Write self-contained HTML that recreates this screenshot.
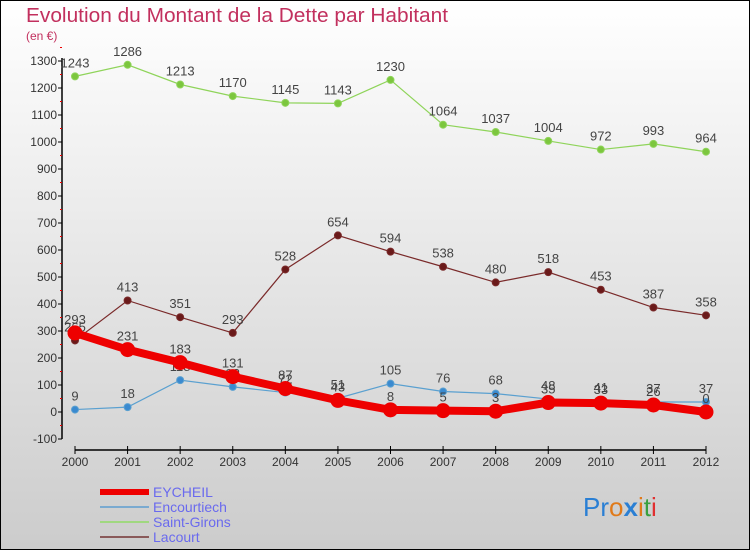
<!DOCTYPE html>
<html><head><meta charset="utf-8">
<style>
html,body{margin:0;padding:0;}
body{width:750px;height:550px;overflow:hidden;font-family:"Liberation Sans",sans-serif;}
svg text{font-family:"Liberation Sans",sans-serif;}
</style></head>
<body>
<svg id="chart" width="750" height="550" viewBox="0 0 750 550" xmlns="http://www.w3.org/2000/svg">
<defs>
<linearGradient id="bg" x1="0" y1="0" x2="0" y2="1">
<stop offset="0" stop-color="#ffffff"/><stop offset="1" stop-color="#cccccc"/>
</linearGradient>
</defs>
<rect x="0.5" y="0.5" width="749" height="549" fill="url(#bg)" stroke="#000"/>
<text x="26" y="22" font-size="20" fill="#c2305e" textLength="422" lengthAdjust="spacingAndGlyphs">Evolution du Montant de la Dette par Habitant</text>
<text x="26" y="40" font-size="12" fill="#c2305e">(en €)</text>
<g id="axes"></g>
<g id="series"></g>
<g id="legend"></g>
<text x="583" y="516" font-size="26"><tspan fill="#2a7fd4">Pr</tspan><tspan fill="#e07a1a">o</tspan><tspan fill="#2a7fd4" font-weight="bold">x</tspan><tspan fill="#e07a1a">i</tspan><tspan fill="#3aa040">t</tspan><tspan fill="#e03030">i</tspan></text>
</svg>
<script>
const years = [2000,2001,2002,2003,2004,2005,2006,2007,2008,2009,2010,2011,2012];
const eycheil = [293,231,183,131,87,43,8,5,3,35,33,26,0];
const encourtiech = [9,18,118,93,72,51,105,76,68,48,41,37,37];
const saintGirons = [1243,1286,1213,1170,1145,1143,1230,1064,1037,1004,972,993,964];
const lacourt = [265,413,351,293,528,654,594,538,480,518,453,387,358];
const yTicks = [-100,0,100,200,300,400,500,600,700,800,900,1000,1100,1200,1300];

const NS="http://www.w3.org/2000/svg";
function X(i){return 75+i*(706-75)/(years.length-1);}
function Y(v){return 412-v*(412-61)/1300;}
function el(tag,attrs,parent){const e=document.createElementNS(NS,tag);for(const k in attrs)e.setAttribute(k,attrs[k]);parent.appendChild(e);return e;}
const axes=document.getElementById('axes');
const yAxis=el('line',{x1:62,y1:Y(1300)-3,x2:62,y2:Y(-100),stroke:'#000','stroke-width':1.5},axes);


yTicks.forEach(v=>{
  el('line',{x1:58,y1:Y(v),x2:62,y2:Y(v),stroke:'#000'},axes);
  el('line',{x1:60,y1:Y(v+50),x2:62,y2:Y(v+50),stroke:'#e00'},axes);
  const t=el('text',{x:57,y:Y(v)+4,'font-size':12,'text-anchor':'end',fill:'#333'},axes);
  t.textContent=v;
  
  
});
const xAxis=el('line',{x1:X(0),y1:450,x2:X(years.length-1),y2:450,stroke:'#000','stroke-width':1.5},axes);


years.forEach((yr,i)=>{
  el('line',{x1:X(i),y1:446,x2:X(i),y2:454,stroke:'#000'},axes);
  const t=el('text',{x:X(i),y:466,'font-size':12,'text-anchor':'middle',fill:'#333'},axes);
  t.textContent=yr;
  
  
});
const ser=document.getElementById('series');
function draw(vals,color,w,r,name,dot){
  const g=el('g',{},ser);
  
  
  el('polyline',{points:vals.map((v,i)=>X(i)+','+Y(v)).join(' '),fill:'none',stroke:color,'stroke-width':w},g);
  vals.forEach((v,i)=>{
    const c=el('circle',{cx:X(i),cy:Y(v),r:r,fill:dot,stroke:color,'stroke-width':1},g);
    
    
    const t=el('text',{x:X(i),y:Y(v)-9,'font-size':13,'text-anchor':'middle',fill:'#444'},g);
    t.textContent=v;
    
    
  });
}
draw(saintGirons,'#8fd45a',1.2,3.5,'saint-girons','#7cc63e');
draw(lacourt,'#7a2a2a',1.2,3.5,'lacourt','#6a1a1a');
draw(encourtiech,'#5aa0d0',1.2,3.5,'encourtiech','#3a8ad0');
draw(eycheil,'#ee0000',8,7,'eycheil','#ee0000');
const lg=document.getElementById('legend');
[['EYCHEIL','#ee0000',6],['Encourtiech','#7aaad0',2],['Saint-Girons','#a0d880',2],['Lacourt','#8a5a5a',2]].forEach((d,i)=>{
  const y=492+i*15;
  const l=el('line',{x1:100,y1:y,x2:149,y2:y,stroke:d[1],'stroke-width':d[2]},lg);
  
  
  const t=el('text',{x:153,y:y+5,'font-size':14,fill:'#6a6aee'},lg);
  t.textContent=d[0];
  
  
});
</script>
</body></html>
